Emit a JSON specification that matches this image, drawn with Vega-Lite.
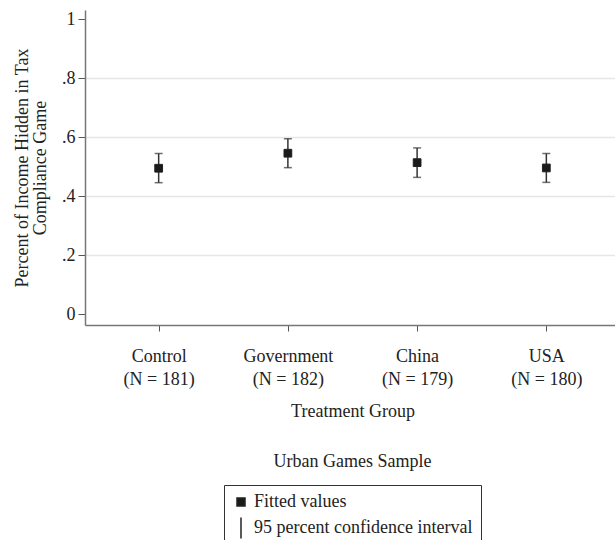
{
  "$schema": "https://vega.github.io/schema/vega-lite/v6.json",
  "autosize": "none",
  "width": 535,
  "height": 315,
  "padding": {"left": 85, "top": 10, "right": 0, "bottom": 215},
  "background": "white",
  "config": {
    "font": "Liberation Serif",
    "view": {"stroke": null},
    "title": {"fontSize": 18, "fontWeight": "normal", "color": "#222"}
  },
  "title": {"text": "Urban Games Sample", "orient": "bottom", "offset": -98, "anchor": "middle"},
  "data": {
    "values": [
      {"group": "Control\n(N = 181)", "mean": 0.495, "lo": 0.446, "hi": 0.545},
      {"group": "Government\n(N = 182)", "mean": 0.546, "lo": 0.497, "hi": 0.595},
      {"group": "China\n(N = 179)", "mean": 0.514, "lo": 0.464, "hi": 0.564},
      {"group": "USA\n(N = 180)", "mean": 0.496, "lo": 0.447, "hi": 0.545}
    ]
  },
  "encoding": {
    "x": {
      "field": "group",
      "type": "nominal",
      "sort": null,
      "scale": {"type": "point", "padding": 0.57},
      "axis": {
        "title": "Treatment Group",
        "labelExpr": "split(datum.label, '\\n')",
        "labelAngle": 0,
        "labelFontSize": 18,
        "labelLineHeight": 23,
        "labelColor": "#222",
        "labelPadding": 16,
        "tickSize": 6,
        "tickColor": "#555",
        "domainColor": "#777",
        "domainWidth": 1.5,
        "titleFontSize": 18,
        "titleFontWeight": "normal",
        "titleColor": "#222",
        "titlePadding": 14,
        "grid": false
      }
    }
  },
  "layer": [
    {
      "mark": {"type": "rule", "color": "#333", "strokeWidth": 1.5},
      "encoding": {
        "y": {
          "field": "lo",
          "type": "quantitative",
          "title": ["Percent of Income Hidden in Tax", "Compliance Game"],
          "scale": {"domain": [-0.037, 1.032], "nice": false, "zero": false},
          "axis": {
            "values": [0, 0.2, 0.4, 0.6, 0.8, 1],
            "labelExpr": "datum.value == 0 ? '0' : datum.value == 1 ? '1' : replace(format(datum.value, '.1f'), '0.', '.')",
            "labelFontSize": 18,
            "labelColor": "#222",
            "labelPadding": 3,
            "tickSize": 7,
            "tickColor": "#555",
            "domainColor": "#777",
            "domainWidth": 1.5,
            "grid": true,
            "gridColor": "#e6e6e6",
            "gridWidth": 1.5,
            "gridOpacity": {"condition": {"test": "datum.value == 0 || datum.value == 1", "value": 0}, "value": 1},
            "titleFontSize": 18,
            "titleFontWeight": "normal",
            "titleColor": "#222",
            "titleLineHeight": 18,
            "titlePadding": 12
          }
        },
        "y2": {"field": "hi"}
      }
    },
    {
      "mark": {"type": "tick", "color": "#333", "size": 8, "thickness": 1.5},
      "encoding": {
        "y": {"field": "lo", "type": "quantitative", "title": ["Percent of Income Hidden in Tax", "Compliance Game"]}
      }
    },
    {
      "mark": {"type": "tick", "color": "#333", "size": 8, "thickness": 1.5},
      "encoding": {
        "y": {"field": "hi", "type": "quantitative", "title": ["Percent of Income Hidden in Tax", "Compliance Game"]}
      }
    },
    {
      "mark": {"type": "point", "filled": true, "color": "#1a1a1a", "size": 60, "opacity": 1, "stroke": "#222", "strokeWidth": 1},
      "encoding": {
        "y": {"field": "mean", "type": "quantitative", "title": ["Percent of Income Hidden in Tax", "Compliance Game"]},
        "shape": {
          "datum": "Fitted values",
          "type": "nominal",
          "scale": {"domain": ["Fitted values", "95 percent confidence interval"], "range": ["square", "M0,-2.6V2.6"]},
          "legend": {
            "orient": "none",
            "legendX": 139,
            "legendY": 475,
            "direction": "vertical",
            "title": null,
            "strokeColor": "#333",
            "fillColor": "white",
            "padding": 8,
            "labelFontSize": 18,
            "labelColor": "#222",
            "labelOffset": 4,
            "labelLimit": 400,
            "rowPadding": 3,
            "symbolSize": 64,
            "symbolOffset": 0,
            "symbolFillColor": "#1a1a1a",
            "symbolOpacity": 1,
            "encode": {
              "symbols": {
                "update": {
                  "stroke": {"value": "#333"},
                  "strokeWidth": {"value": 1.2},
                  "opacity": {"value": 1}
                }
              }
            }
          }
        }
      }
    }
  ]
}
